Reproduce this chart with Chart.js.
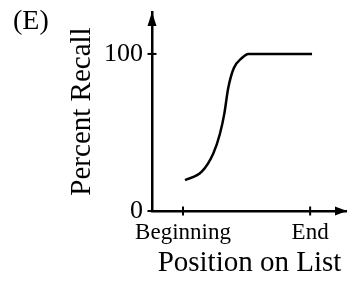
<!DOCTYPE html>
<html>
<head>
<meta charset="utf-8">
<script src="https://cdn.jsdelivr.net/npm/chart.js@4"></script>
<style>
  html, body { margin: 0; padding: 0; background: #fff; }
  canvas { display: block; }
</style>
</head>
<body>
<canvas id="chart" width="347" height="281"></canvas>
<script>
// curve
var positions = [0.016, 0.147, 0.239, 0.29, 0.325, 0.355, 0.40, 0.462, 0.514, 1.015];
var recall = [19.7, 25, 36.8, 49, 62, 78, 91, 97.3, 100, 100];

var xTickValues = [0, 1];
var xTickLabels = ['Beginning', 'End'];
var yTickValues = [0, 100];

var serif = '"Liberation Serif", "Times New Roman", serif';

// tick marks crossing the axes, arrow heads and the panel letter
var axisDecor = {
  id: 'axisDecor',
  afterDraw: function(chart) {
    var ctx = chart.ctx, a = chart.chartArea;
    var x = chart.scales.x, y = chart.scales.y;
    ctx.save();
    ctx.strokeStyle = '#000';
    ctx.fillStyle = '#000';
    ctx.lineWidth = 2;
    x.ticks.forEach(function(t) {
      var px = x.getPixelForValue(t.value);
      ctx.beginPath();
      ctx.moveTo(px, a.bottom - 4.5);
      ctx.lineTo(px, a.bottom + 4.5);
      ctx.stroke();
    });
    y.ticks.forEach(function(t) {
      var py = y.getPixelForValue(t.value);
      ctx.beginPath();
      ctx.moveTo(a.left - 4.5, py);
      ctx.lineTo(a.left + 4.5, py);
      ctx.stroke();
    });
    // y arrow
    ctx.beginPath();
    ctx.moveTo(a.left, a.top);
    ctx.lineTo(a.left - 4.5, a.top + 14);
    ctx.lineTo(a.left + 4.5, a.top + 14);
    ctx.closePath();
    ctx.fill();
    // x arrow
    ctx.beginPath();
    ctx.moveTo(a.right, a.bottom);
    ctx.lineTo(a.right - 12, a.bottom - 4.5);
    ctx.lineTo(a.right - 12, a.bottom + 4.5);
    ctx.closePath();
    ctx.fill();

    ctx.font = '28px ' + serif;
    ctx.textBaseline = 'alphabetic';
    ctx.textAlign = 'left';
    ctx.fillText('(E)', 13, 29);
    ctx.restore();
  }
};

var myChart = new Chart(document.getElementById('chart'), {
  type: 'scatter',
  data: {
    datasets: [
      {
        data: positions.map(function(p, i) { return {x: p, y: recall[i]}; }),
        showLine: true,
        borderColor: '#000',
        borderWidth: 2.5,
        pointRadius: 0,
        cubicInterpolationMode: 'monotone',
        fill: false
      }
    ]
  },
  options: {
    responsive: false,
    animation: false,
    layout: { padding: { left: 0, right: 0, top: 12, bottom: 0 } },
    plugins: {
      legend: { display: false },
      tooltip: { enabled: false }
    },
    scales: {
      x: {
        type: 'linear',
        min: -0.244,
        max: 1.29,
        grid: { display: false, drawTicks: false },
        border: { display: true, color: '#000', width: 2.5 },
        afterBuildTicks: function(scale) {
          scale.ticks = xTickValues.map(function(v) { return {value: v}; });
        },
        afterFit: function(scale) {
          scale.height = 70;
          scale.paddingLeft = 0;
          scale.paddingRight = 0;
        },
        ticks: {
          color: '#000',
          padding: 8,
          maxRotation: 0,
          font: { family: serif, size: 23 },
          callback: function(v) { return xTickLabels[xTickValues.indexOf(v)]; }
        },
        title: {
          display: true,
          text: 'Position on List',
          color: '#000',
          font: { family: serif, size: 29 },
          padding: { top: 0, bottom: 0 }
        }
      },
      y: {
        min: 0,
        max: 126.7,
        grid: { display: false, drawTicks: false },
        border: { display: true, color: '#000', width: 2.5 },
        afterBuildTicks: function(scale) {
          scale.ticks = yTickValues.map(function(v) { return {value: v}; });
        },
        afterFit: function(scale) {
          scale.width = 152;
          scale.paddingTop = 0;
          scale.paddingBottom = 0;
        },
        ticks: {
          color: '#000',
          padding: 9,
          font: { family: serif, size: 26 },
          callback: function(v) { return String(v); }
        },
        title: {
          display: true,
          text: 'Percent Recall',
          color: '#000',
          font: { family: serif, size: 29 },
          padding: { top: 65, bottom: 0 }
        }
      }
    }
  },
  plugins: [axisDecor]
});
</script>
</body>
</html>
